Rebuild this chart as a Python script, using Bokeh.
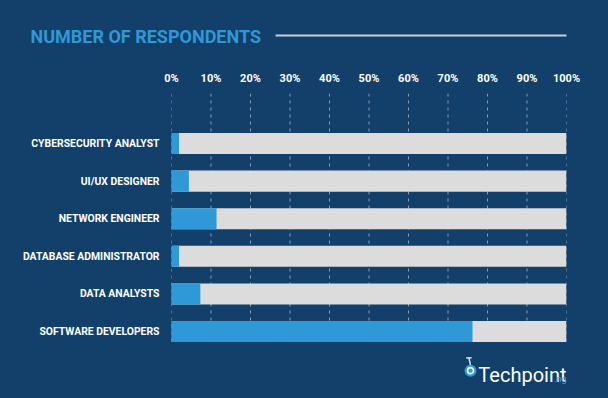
from bokeh.plotting import figure
from bokeh.layouts import column
from bokeh.models import Range1d, FixedTicker, Label, ColumnDataSource
from bokeh.core.properties import value
from bokeh.embed import file_html
from bokeh.resources import INLINE

categories = ["CYBERSECURITY ANALYST", "UI/UX DESIGNER", "NETWORK ENGINEER",
              "DATABASE ADMINISTRATOR", "DATA ANALYSTS", "SOFTWARE DEVELOPERS"]
shares = [1.9, 4.4, 11.4, 1.9, 7.3, 76.2]
totals = [100, 100, 100, 100, 100, 100]
tick_values = [0, 10, 20, 30, 40, 50, 60, 70, 80, 90, 100]
tick_labels = ["0%", "10%", "20%", "30%", "40%", "50%", "60%", "70%", "80%", "90%", "100%"]
title_text = "NUMBER OF RESPONDENTS"

BG = "#133f6b"
BLUE = "#2e99d6"
GRAY = "#dcdcdd"
FONT = "Roboto"

# ---------- header strip (title + rule) ----------
head = figure(width=608, height=55, output_backend="svg", toolbar_location=None,
              x_range=Range1d(0, 608), y_range=Range1d(55, 0),
              min_border=0, x_axis_type=None, y_axis_type=None)
head.frame_align = False
head.background_fill_color = BG
head.border_fill_color = BG
head.outline_line_color = None
head.grid.visible = False
head.text(x=[30], y=[36], text=[title_text], text_color=BLUE,
          text_font=value(FONT), text_font_style="bold", text_font_size="18px",
          text_baseline="middle", text_align="left")
head.segment(x0=[275], y0=[35], x1=[566], y1=[35], line_color="#c9ced6", line_width=2)

# ---------- main chart ----------
idx = list(range(len(categories)))
src = ColumnDataSource(dict(y=idx, share=shares, total=totals, cat=categories))

y_top, y_bot = -1.33, 6.78
p = figure(width=608, height=343, output_backend="svg", toolbar_location=None,
           x_range=Range1d(0, 100), y_range=Range1d(y_bot, y_top),
           x_axis_location="above",
           min_border_left=171, min_border_right=42, min_border_top=38,
           min_border_bottom=0)
p.frame_align = False
p.background_fill_color = BG
p.border_fill_color = BG
p.outline_line_color = None
p.grid.visible = False

# dashed gridlines at the tick positions
p.segment(x0=tick_values, x1=tick_values, y0=[y_top] * len(tick_values),
          y1=[5.3] * len(tick_values), line_color="#a9b6c6", line_width=1,
          line_dash="3 4", line_alpha=0.8)

p.hbar(y="y", left=0, right="total", height=0.56, source=src,
       fill_color=GRAY, line_color=None)
p.hbar(y="y", left=0, right="share", height=0.56, source=src,
       fill_color=BLUE, line_color=None)

xa = p.xaxis[0]
xa.ticker = FixedTicker(ticks=tick_values)
xa.major_label_overrides = {v: l for v, l in zip(tick_values, tick_labels)}
xa.axis_line_color = None
xa.major_tick_line_color = None
xa.minor_tick_line_color = None
xa.major_tick_out = 0
xa.major_tick_in = 0
xa.major_label_standoff = 9
xa.major_label_text_color = "white"
xa.major_label_text_font = FONT
xa.major_label_text_font_style = "bold"
xa.major_label_text_font_size = "11px"

ya = p.yaxis[0]
ya.ticker = FixedTicker(ticks=idx)
ya.major_label_overrides = {i: c for i, c in zip(idx, categories)}
ya.axis_line_color = None
ya.major_tick_line_color = None
ya.minor_tick_line_color = None
ya.major_tick_out = 0
ya.major_tick_in = 0
ya.major_label_standoff = 12
ya.major_label_text_color = "white"
ya.major_label_text_font = FONT
ya.major_label_text_font_style = "bold"
ya.major_label_text_font_size = "10.4px"

# logo
p.add_layout(Label(x=100, y=6.144, text="Techpoint", text_color="white",
                   text_font=FONT, text_font_size="20px",
                   text_baseline="alphabetic", text_align="right"))
p.add_layout(Label(x=100, y=6.27, text=".ng", text_color="#3aa6e4",
                   text_font=FONT, text_font_size="9px",
                   text_baseline="middle", text_align="right"))
p.segment(x0=[75.7], y0=[5.90], x1=[75.3], y1=[5.70], line_color="#cfe6f5", line_width=1.5)
p.segment(x0=[74.6], y0=[5.70], x1=[76.0], y1=[5.70], line_color="#cfe6f5", line_width=1.5)
p.scatter(x=[75.7], y=[6.04], size=12, marker="circle", fill_color=BLUE, line_color=None)
p.scatter(x=[75.7], y=[6.04], size=6, marker="circle", fill_color=None,
          line_color="white", line_width=1.6)

layout = column(head, p, spacing=0)
html = file_html(layout, INLINE)
html = html.replace("<head>", "<head><style>body{background:%s;}</style>" % BG, 1)
open("out.html", "w").write(html)
